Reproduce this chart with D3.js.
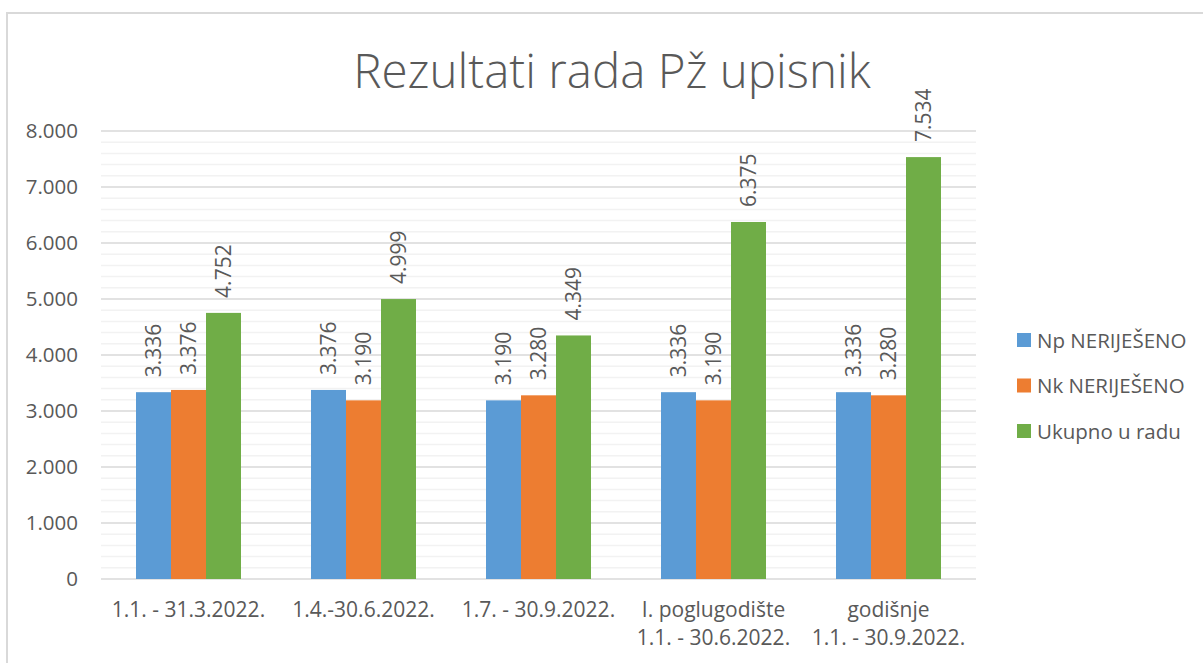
<!DOCTYPE html>
<html><head><meta charset="utf-8">
<script src="https://cdn.jsdelivr.net/npm/d3@7"></script>
<style>body{margin:0;background:#fff}svg{display:block}text{font-family:"Open Sans",sans-serif;fill:#595959}</style>
</head><body>
<svg id="c" width="1203" height="663"></svg>
<script>
const categories = [["1.1. - 31.3.2022."],["1.4.-30.6.2022."],["1.7. - 30.9.2022."],["I. poglugodište","1.1. - 30.6.2022."],["godišnje","1.1. - 30.9.2022."]];
const seriesNames = ["Np NERIJEŠENO","Nk NERIJEŠENO","Ukupno u radu"];
const npValues = [3336,3376,3190,3336,3336];
const nkValues = [3376,3190,3280,3190,3280];
const ukupnoValues = [4752,4999,4349,6375,7534];
const yTicks = [0,1000,2000,3000,4000,5000,6000,7000,8000];
const colors = ["#5b9bd5","#ed7d31","#70ad47"];
const title = "Rezultati rada Pž upisnik";

const series = [npValues, nkValues, ukupnoValues];
const loc = d3.formatLocale({decimal:",",thousands:".",grouping:[3],currency:["",""]});
const fmt = loc.format(",d");

const svg = d3.select("#c");
svg.append("rect").attr("x",7).attr("y",13).attr("width",1210).attr("height",700)
  .attr("fill","none").attr("stroke","#d9d9d9").attr("stroke-width",2);

const m = {l:101, r:976, t:131, b:579};
const x0 = d3.scaleBand().domain(d3.range(categories.length)).range([m.l,m.r]).paddingInner(0.4).paddingOuter(0.2);
const x1 = d3.scaleBand().domain(d3.range(series.length)).range([0,x0.bandwidth()]);
const y = d3.scaleLinear().domain([0,8000]).range([m.b,m.t]);

// minor grid
svg.append("g").selectAll("line").data(d3.range(200,8000,200).filter(v=>v%1000!==0)).join("line")
  .attr("x1",m.l).attr("x2",m.r).attr("y1",d=>y(d)).attr("y2",d=>y(d))
  .attr("stroke","#f2f2f2").attr("stroke-width",1.5);
// major grid
svg.append("g").selectAll("line").data(yTicks).join("line")
  .attr("x1",m.l).attr("x2",m.r).attr("y1",d=>y(d)).attr("y2",d=>y(d))
  .attr("stroke","#d9d9d9").attr("stroke-width",1.5);

// y axis labels
const yAxis = d3.axisLeft(y).tickValues(yTicks).tickFormat(fmt).tickSize(0).tickPadding(0);
const ya = svg.append("g").attr("transform",`translate(78,0)`).call(yAxis);
ya.select(".domain").remove();
ya.selectAll("text").attr("font-size",20.5).attr("fill","#595959").attr("font-family","Open Sans");

// bars
const groups = svg.append("g").selectAll("g").data(categories).join("g")
  .attr("transform",(d,i)=>`translate(${x0(i)},0)`);
groups.selectAll("rect").data((d,i)=>series.map((s,j)=>({j,v:s[i]}))).join("rect")
  .attr("x",d=>x1(d.j)).attr("width",x1.bandwidth())
  .attr("y",d=>y(d.v)).attr("height",d=>y(0)-y(d.v)).attr("fill",d=>colors[d.j]);
groups.selectAll("text.lbl").data((d,i)=>series.map((s,j)=>({j,v:s[i]}))).join("text")
  .attr("class","lbl")
  .attr("transform",d=>`translate(${x1(d.j)+x1.bandwidth()/2+7.5},${y(d.v)-15}) rotate(-90)`)
  .attr("font-size",21).text(d=>fmt(d.v));

// x labels
const xl = svg.append("g").selectAll("text").data(categories).join("text")
  .attr("x",(d,i)=>x0(i)+x0.bandwidth()/2).attr("y",617).attr("text-anchor","middle").attr("font-size",21);
xl.selectAll("tspan").data(d=>d).join("tspan").attr("x",function(){return this.parentNode.getAttribute("x");})
  .attr("dy",(d,i)=>i?28:0).text(d=>d);

// title
svg.append("text").attr("x",612).attr("y",88).attr("text-anchor","middle").attr("font-size",47.5)
  .attr("font-weight",300).text(title);

// legend
const lg = svg.append("g").selectAll("g").data(seriesNames).join("g")
  .attr("transform",(d,i)=>`translate(1017,${340+i*45.5})`);
lg.append("rect").attr("x",0).attr("y",-7).attr("width",14).attr("height",14).attr("fill",(d,i)=>colors[i]);
lg.append("text").attr("x",20).attr("y",7.5).attr("font-size",20.5).text(d=>d);
</script>
</body></html>
